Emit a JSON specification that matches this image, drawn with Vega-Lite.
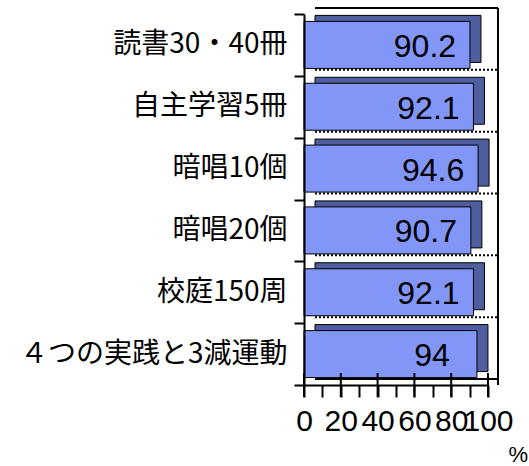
{
  "$schema": "https://vega.github.io/schema/vega-lite/v6.json",
  "width": 184,
  "height": 371,
  "autosize": {"type": "none"},
  "padding": {"left": 304, "top": 14, "right": 41, "bottom": 81},
  "background": "white",
  "config": {"view": {"stroke": null}},
  "data": {
    "values": [
      {"cat": "読書30・40冊", "v": 90.2},
      {"cat": "自主学習5冊", "v": 92.1},
      {"cat": "暗唱10個", "v": 94.6},
      {"cat": "暗唱20個", "v": 90.7},
      {"cat": "校庭150周", "v": 92.1},
      {"cat": "４つの実践と3減運動", "v": 94}
    ]
  },
  "resolve": {"axis": {"x": "independent"}},
  "layer": [
    {
      "mark": {"type": "rule", "xOffset": 11, "x2Offset": 10, "yOffset": -6, "y2Offset": -6, "color": "black", "strokeWidth": 2},
      "encoding": {
        "x": {"datum": 0, "type": "quantitative", "scale": {"domain": [0, 100], "nice": false}, "axis": null},
        "x2": {"datum": 100},
        "y": {"field": "cat", "type": "nominal", "bandPosition": 0, "sort": null},
        "strokeDash": {"condition": {"test": "datum.cat === '読書30・40冊'", "value": [1, 0]}, "value": [2, 2]}
      }
    },
    {
      "mark": {"type": "rule", "xOffset": 10, "yOffset": -6, "y2Offset": -6, "color": "black", "strokeWidth": 2},
      "encoding": {
        "x": {"datum": 100, "type": "quantitative", "axis": null}
      }
    },
    {
      "mark": {"type": "rule", "xOffset": 11, "x2Offset": 10, "yOffset": -6, "y2Offset": -6, "color": "black", "strokeWidth": 1.5},
      "encoding": {
        "x": {"datum": 0, "type": "quantitative", "axis": null},
        "x2": {"datum": 100},
        "y": {"datum": "４つの実践と3減運動", "type": "nominal", "bandPosition": 1}
      }
    },
    {
      "mark": {"type": "bar", "height": {"band": 0.76}, "xOffset": 11, "x2Offset": 11, "yOffset": -6, "y2Offset": -6, "fill": "#4F5E9E", "stroke": "black", "strokeWidth": 1},
      "encoding": {
        "x": {"field": "v", "type": "quantitative", "axis": null},
        "y": {"field": "cat", "type": "nominal", "sort": null}
      }
    },
    {
      "mark": {"type": "bar", "height": {"band": 0.76}, "fill": "#8296F8", "stroke": "black", "strokeWidth": 1},
      "encoding": {
        "x": {"field": "v", "type": "quantitative",
          "axis": {"orient": "bottom", "zindex": 1, "values": [0, 10, 20, 30, 40, 50, 60, 70, 80, 90, 100],
            "labelExpr": "datum.value % 20 === 0 ? datum.label : ''",
            "tickSize": 12, "tickWidth": 2, "tickColor": "black", "domainColor": "black", "domainWidth": 2,
            "labelFont": "Liberation Sans", "labelFontSize": 30, "labelColor": "black", "labelPadding": 9, "labelDx": 4,
            "labelOverlap": false, "labelFlush": false, "grid": false,
            "title": "%", "titleFont": "Liberation Sans", "titleFontSize": 22, "titleFontWeight": "normal", "titleColor": "black",
            "titleX": 204, "titleY": 76, "titleAlign": "left", "titleBaseline": "alphabetic", "titleAnchor": null}},
        "y": {"field": "cat", "type": "nominal", "sort": null,
          "scale": {"paddingInner": 0, "paddingOuter": 0},
          "axis": {"tickBand": "extent", "zindex": 1, "tickSize": 10, "tickWidth": 2, "tickColor": "black", "domainColor": "black", "domainWidth": 2,
            "labelFont": "Noto Sans CJK JP", "labelFontSize": 28, "labelLimit": 300, "labelColor": "black", "labelPadding": 7, "title": null, "grid": false}}
      }
    },
    {
      "mark": {"type": "text", "dx": -45, "dy": 2, "align": "center", "baseline": "middle", "font": "Liberation Sans", "fontSize": 32, "color": "black"},
      "encoding": {
        "x": {"field": "v", "type": "quantitative", "axis": null},
        "y": {"field": "cat", "type": "nominal", "sort": null},
        "text": {"field": "v", "type": "quantitative", "format": ".1~f"}
      }
    },
    {
      "data": {"values": [{"t": 0}, {"t": 20}, {"t": 40}, {"t": 60}, {"t": 80}, {"t": 100}]},
      "mark": {"type": "tick", "orient": "vertical", "color": "black", "thickness": 2, "size": 24, "opacity": 1, "yOffset": 31},
      "encoding": {
        "x": {"field": "t", "type": "quantitative", "axis": null},
        "y": {"datum": "４つの実践と3減運動", "type": "nominal"}
      }
    }
  ]
}
